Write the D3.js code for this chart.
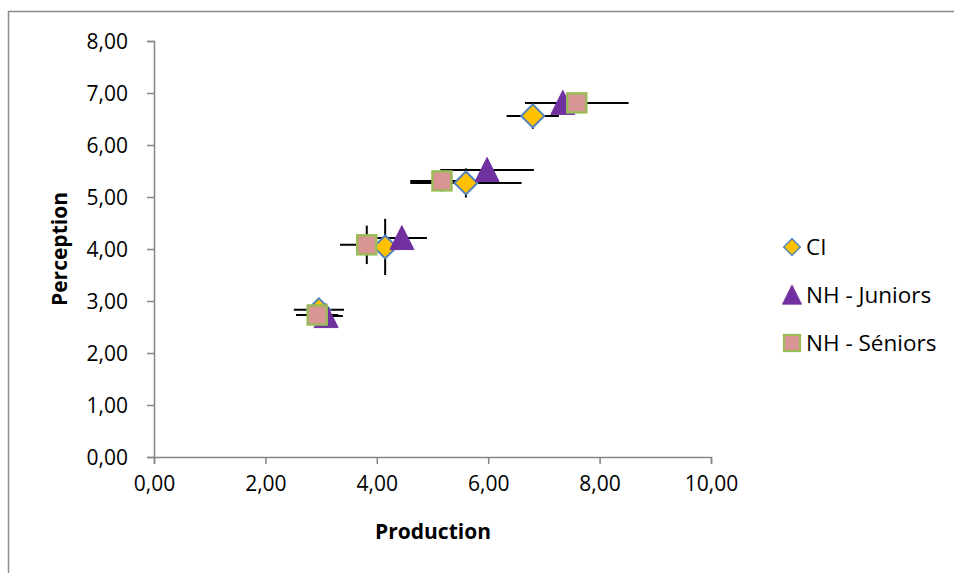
<!DOCTYPE html>
<html><head><meta charset="utf-8">
<script src="https://cdn.jsdelivr.net/npm/d3@7"></script>
<style>body{margin:0;background:#fff}svg{display:block}text{font-family:"Open Sans","Liberation Sans",sans-serif}</style>
</head><body><svg id="c" width="954" height="573"></svg>
<script>
// Data
const seriesNames = ["CI", "NH - Juniors", "NH - Séniors"];
const ciX = [2.96, 4.15, 5.60, 6.80];
const ciY = [2.83, 4.04, 5.27, 6.56];
const ciXErr = [0.45, 0.50, 1.00, 0.47];
const ciYErr = [0.10, 0.54, 0.28, 0.25];
const junX = [3.09, 4.45, 5.98, 7.34];
const junY = [2.71, 4.21, 5.52, 6.81];
const junXErr = [0.30, 0.45, 0.84, 0.50];
const junYErr = [0.10, 0.15, 0.15, 0.15];
const senX = [2.93, 3.82, 5.17, 7.59];
const senY = [2.73, 4.08, 5.31, 6.81];
const senXErr = [0.38, 0.48, 0.57, 0.93];
const senYErr = [0.10, 0.37, 0.20, 0.15];
const xTicks = [0, 2, 4, 6, 8, 10];
const yTicks = [0, 1, 2, 3, 4, 5, 6, 7, 8];

const series = [
  {name: seriesNames[0], x: ciX, y: ciY, xe: ciXErr, ye: ciYErr, shape: "diamond", fill: "#FFC000", stroke: "#4F81BD"},
  {name: seriesNames[1], x: junX, y: junY, xe: junXErr, ye: junYErr, shape: "triangle", fill: "#7030A0", stroke: "#7030A0"},
  {name: seriesNames[2], x: senX, y: senY, xe: senXErr, ye: senYErr, shape: "square", fill: "#D99594", stroke: "#9BBB59"}
];

const svg = d3.select("#c");
const fmt = v => d3.format(".2f")(v).replace(".", ",");

// chart area border
svg.append("rect").attr("x", 8.5).attr("y", 11.5).attr("width", 960).attr("height", 600)
  .attr("fill", "#fff").attr("stroke", "#8c8c8c").attr("stroke-width", 1.5);

const x = d3.scaleLinear().domain([0, 10]).range([154, 711]);
const y = d3.scaleLinear().domain([0, 8]).range([457, 41]);

const xAxis = svg.append("g").attr("transform", "translate(0,457)")
  .call(d3.axisBottom(x).tickValues(xTicks).tickFormat(fmt).tickSize(7).tickPadding(12));
const yAxis = svg.append("g").attr("transform", "translate(154,0)")
  .call(d3.axisLeft(y).tickValues(yTicks).tickFormat(fmt).tickSize(7).tickPadding(19));
[xAxis, yAxis].forEach(g => {
  g.select(".domain").attr("stroke", "#868686").attr("stroke-width", 1.5);
  g.selectAll(".tick line").attr("stroke", "#868686").attr("stroke-width", 1.5);
  g.selectAll(".tick text").attr("fill", "#000").style("font-size", "21px");
});
yAxis.selectAll(".tick text").attr("dy", "0.35em");

svg.append("text").attr("x", 433).attr("y", 539).attr("text-anchor", "middle")
  .style("font-size", "21px").style("font-weight", "bold").text("Production");
svg.append("text").attr("transform", "translate(67,249) rotate(-90)").attr("text-anchor", "middle")
  .style("font-size", "21px").style("font-weight", "bold").text("Perception");

// error bars
const eb = svg.append("g").attr("stroke", "#000").attr("stroke-width", 2);
series.forEach(s => {
  s.x.forEach((xv, i) => {
    const yv = s.y[i];
    eb.append("line").attr("x1", x(xv - s.xe[i])).attr("x2", x(xv + s.xe[i]))
      .attr("y1", y(yv)).attr("y2", y(yv));
    eb.append("line").attr("x1", x(xv)).attr("x2", x(xv))
      .attr("y1", y(yv - s.ye[i])).attr("y2", y(yv + s.ye[i]));
  });
});

function drawMarker(g, shape, cx, cy, s) {
  if (shape === "diamond") {
    g.append("path").attr("d", `M${cx},${cy-11.5}L${cx+11.5},${cy}L${cx},${cy+11.5}L${cx-11.5},${cy}Z`)
      .attr("fill", s.fill).attr("stroke", s.stroke).attr("stroke-width", 2);
  } else if (shape === "triangle") {
    g.append("path").attr("d", `M${cx},${cy-12.5}L${cx+12},${cy+11.5}L${cx-12},${cy+11.5}Z`)
      .attr("fill", s.fill).attr("stroke", s.stroke).attr("stroke-width", 1);
  } else {
    g.append("rect").attr("x", cx - 9.5).attr("y", cy - 9.5).attr("width", 19).attr("height", 19)
      .attr("fill", s.fill).attr("stroke", s.stroke).attr("stroke-width", 2.5);
  }
}

const mk = svg.append("g");
series.forEach(s => {
  s.x.forEach((xv, i) => drawMarker(mk, s.shape, x(xv), y(s.y[i]), s));
});

// legend
const lg = svg.append("g");
series.forEach((s, i) => {
  const ly = 247 + i * 48;
  const sc = {diamond: 0.72, triangle: 0.8, square: 0.85};
  const g = lg.append("g").attr("transform", `translate(792,${ly}) scale(${sc[s.shape]})`);
  drawMarker(g, s.shape, 0, 0, s);
  lg.append("text").attr("x", 806).attr("y", ly).attr("dy", "0.35em")
    .style("font-size", "22.5px").text(s.name);
});
</script></body></html>
